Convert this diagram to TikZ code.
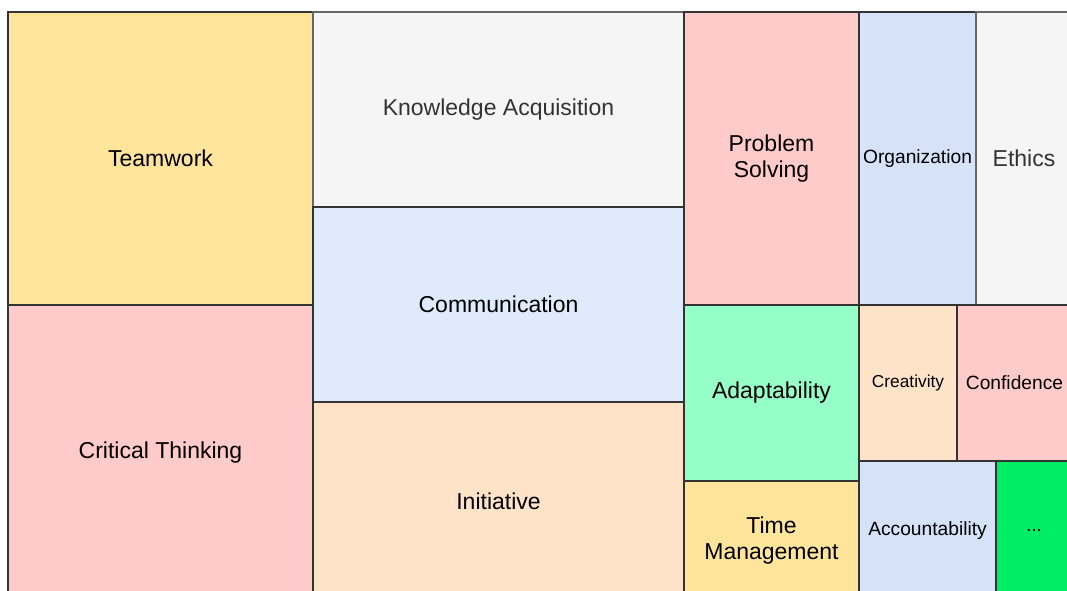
\documentclass[tikz,border=0pt]{standalone}
\usepackage{fontspec}
\setmainfont{Liberation Sans}
\begin{document}
\begin{tikzpicture}[x=1pt,y=-1pt,
  cell/.style={draw=black!80, line width=1.4pt, inner sep=1pt, align=center,
    font=\fontsize{23}{26.5}\selectfont, text=black},
  graycell/.style={cell, draw=black!60, text=black!80},
  small/.style={font=\fontsize{19.2}{22}\selectfont},
  tiny/.style={font=\fontsize{17.3}{20}\selectfont}]
\definecolor{cYellow}{HTML}{FFE49C}
\definecolor{cPink}{HTML}{FFCACA}
\definecolor{cGray}{HTML}{F5F5F5}
\definecolor{cBlueA}{HTML}{DFEBFC}
\definecolor{cBlueB}{HTML}{D5E2F8}
\definecolor{cOrange}{HTML}{FFE3C8}
\definecolor{cMint}{HTML}{96FFC8}
\definecolor{cLime}{HTML}{00EE66}
\useasboundingbox (0,0) rectangle (1067,590);
\fill[white] (0,0) rectangle (1067,590);
\clip (0,0) rectangle (1067,590);
% left column
\node[cell, fill=cYellow, minimum width=305, minimum height=293] (tw) at (160.5,158.5) {Teamwork};
\node[cell, fill=cPink, minimum width=305, minimum height=295] (ct) at (160.5,452.5) {Critical Thinking};
% middle column
\node[graycell, fill=cGray, minimum width=371, minimum height=195] (ka) at (498.5,109.5) {Knowledge Acquisition};
\node[cell, fill=cBlueA, minimum width=371, minimum height=195] (co) at (498.5,304.5) {Communication};
\node[cell, fill=cOrange, minimum width=371, minimum height=198] (in) at (498.5,501) {Initiative};
% right block, top row
\node[cell, fill=cPink, minimum width=175, minimum height=293] (ps) at (771.5,158.5) {Problem\\Solving};
\node[cell, small, fill=cBlueB, minimum width=117, minimum height=293] (or) at (917.5,158.5) {Organization};
\node[graycell, fill=cGray, minimum width=96, minimum height=293] (et) at (1024,158.5) {Ethics};
% right block, lower rows
\node[cell, fill=cMint, minimum width=175, minimum height=176] (ad) at (771.5,393) {Adaptability};
\node[cell, fill=cYellow, minimum width=175, minimum height=119] (tm) at (771.5,540.5) {Time\\Management};
\node[cell, tiny, fill=cOrange, minimum width=98, minimum height=156] (cr) at (908,383) {Creativity};
\node[cell, small, fill=cPink, minimum width=115, minimum height=156] (cf) at (1014.5,383) {Confidence};
\node[cell, small, fill=cBlueB, minimum width=137, minimum height=139] (ac) at (927.5,530.5) {Accountability};
\node[cell, small, fill=cLime, minimum width=76, minimum height=139] (dd) at (1034,530.5) {...};
\end{tikzpicture}
\end{document}
